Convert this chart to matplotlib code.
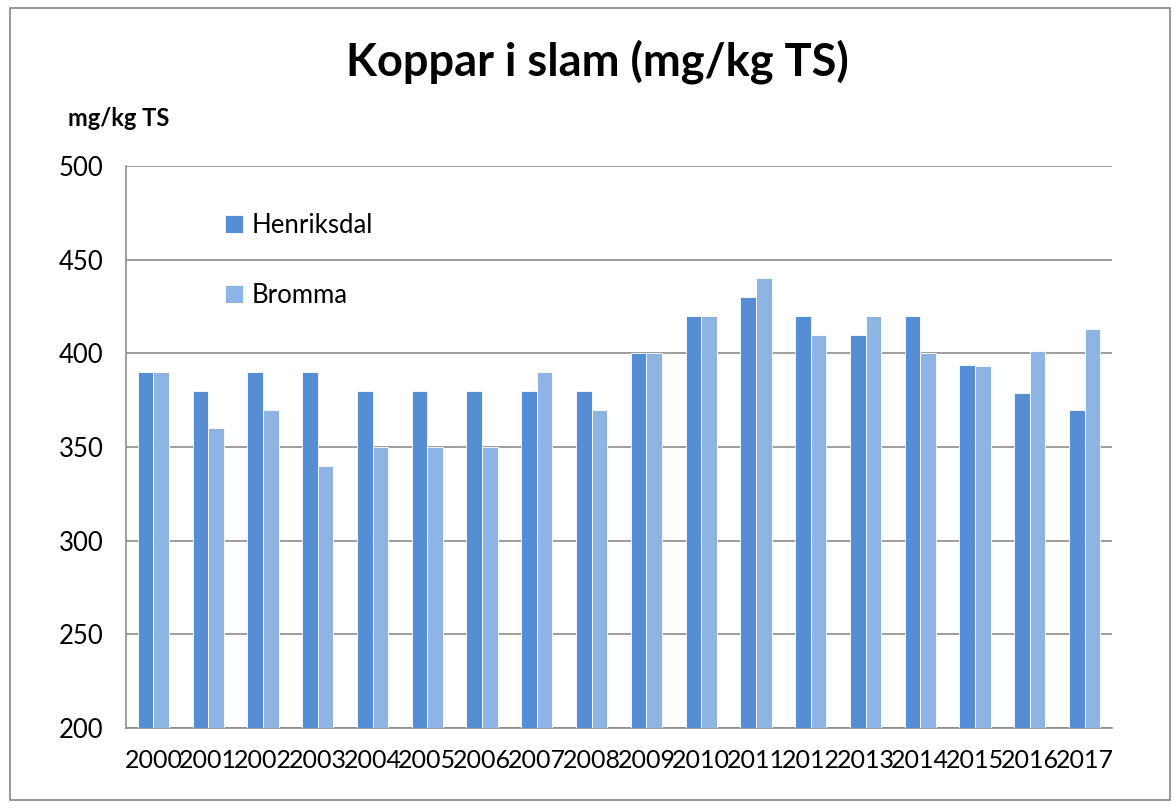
import numpy as np
import matplotlib.pyplot as plt
from matplotlib.patches import Rectangle

years = [str(y) for y in range(2000, 2018)]
henriksdal = [390, 380, 390, 390, 380, 380, 380, 380, 380, 400,
              420, 430, 420, 410, 420, 394, 379, 370]
bromma = [390, 360, 370, 340, 350, 350, 350, 390, 370, 400,
          420, 440, 410, 420, 400, 393, 401, 413]

plt.rcParams['font.family'] = ['Lato', 'DejaVu Sans']

fig = plt.figure(figsize=(11.74, 8.09), dpi=100)
ax = fig.add_axes([126/1174, 1 - 728/809, 986/1174, 562/809])

# outer chart border
fig.patches.append(Rectangle((10/1174, 1 - 800/809), 1160/1174, 792/809,
                             transform=fig.transFigure, fill=False,
                             edgecolor='#868686', linewidth=1.2))

x = np.arange(len(years))
w = 0.285
ax.bar(x - w/2, henriksdal, w, color='#558ED5', edgecolor='white', linewidth=0.6,
       label='Henriksdal', zorder=3)
ax.bar(x + w/2, bromma, w, color='#8EB4E3', edgecolor='white', linewidth=0.6,
       label='Bromma', zorder=3)

ax.set_xlim(-0.5, len(years) - 0.5)
ax.set_ylim(200, 500)
ax.set_yticks(range(200, 501, 50))
ax.set_xticks(x)
ax.set_xticklabels(years)
ax.tick_params(axis='both', length=0, colors='black')
ax.tick_params(axis='x', pad=15, labelsize=18)
ax.tick_params(axis='y', pad=16, labelsize=18.5)
ax.yaxis.grid(True, color='#8c8c8c', linewidth=1.2, zorder=0)
for s in ['top', 'right']:
    ax.spines[s].set_visible(False)
for s in ['left', 'bottom']:
    ax.spines[s].set_color('#8c8c8c')
    ax.spines[s].set_linewidth(1.2)

fig.text(597/1174, 1 - 62/809, 'Koppar i slam (mg/kg TS)', ha='center', va='center',
         fontsize=32.5, fontweight='bold')
fig.text(68/1174, 1 - 118/809, 'mg/kg TS', ha='left', va='center',
         fontsize=17, fontweight='bold')

leg = ax.legend(loc='upper left', bbox_to_anchor=(0.077, 0.957), frameon=False,
                fontsize=18.5, handlelength=0.7, handleheight=0.7,
                handletextpad=0.35, labelspacing=1.75)

fig.savefig('out.png', dpi=100)
